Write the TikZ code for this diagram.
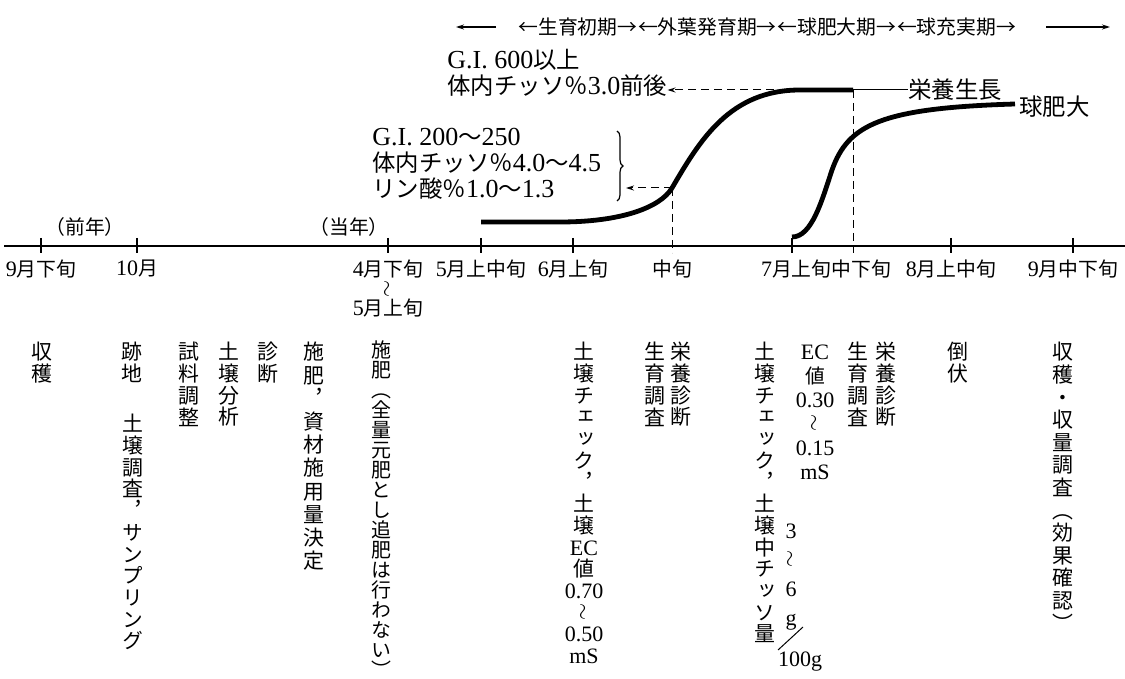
\documentclass[tikz,border=0pt]{standalone}
\usepackage{fontspec}
\setmainfont{Liberation Serif}
\newfontfamily\jp[Scale=0.9]{Noto Sans CJK JP}
\newfontfamily\jpv[Scale=0.95,RawFeature=+vert]{Noto Sans CJK JP}
\newcommand\cjkfont{\jp}
\newcommand\vtilde{\rotatebox{90}{$\sim$}}
% CJK text in Noto, the rest in Liberation Serif
\XeTeXinterchartokenstate=1
\newXeTeXintercharclass\cjkclass
\newcount\cjkcode
\newcommand\cjkrange[2]{\cjkcode=#1 \loop\XeTeXcharclass\cjkcode=\cjkclass\advance\cjkcode by 1 \ifnum\cjkcode<#2 \repeat}
\cjkrange{"2190}{"2194}
\cjkrange{"3000}{"A000}
\cjkrange{"FE10}{"FE50}
\cjkrange{"FF00}{"FFF0}
\XeTeXinterchartoks 0 \cjkclass = {\cjkfont}
\XeTeXinterchartoks 4095 \cjkclass = {\cjkfont}
\XeTeXinterchartoks \cjkclass 0 = {\rmfamily}
\XeTeXinterchartoks \cjkclass 4095 = {\rmfamily}
\usetikzlibrary{arrows.meta}
\usetikzlibrary{positioning}
\usetikzlibrary{decorations.pathreplacing}

\begin{document}
\begin{tikzpicture} [ x=0.5pt, y=-0.5pt
								, tate/.style={anchor=north, align=center, inner sep=0pt, font=\let\cjkfont\jpv\fontsize{11}{10.85}\selectfont}
								, hizuke/.style={inner sep=0pt, font=\fontsize{11}{13}\selectfont}
								, chu/.style={inner sep=0pt, align=left, font=\fontsize{13}{13}\selectfont}
								, seicho/.style={line width=2.4pt}
								, memori/.style={line width=0.7pt}
								, tensen/.style={line width=0.5pt, dash pattern=on 4pt off 2.5pt}
								, yaji/.style={tensen, -{Stealth[length=4pt, width=2.5pt]}}
								, kopfpfeil/.style={line width=0.6pt, -{Stealth[length=4pt, width=2.5pt]}}
								, kakko/.style={decorate, decoration={brace, amplitude=3pt}, line width=0.6pt}
								]
	\useasboundingbox (0,0) rectangle (1125,679);

	% Zeitachse
	\coordinate (achseL) at (4,246);
	\coordinate (achseR) at (1125,246);
	\coordinate (achseU) at (0,253);
	\draw [memori] (achseL) -- (achseR);
	\foreach \x in {41,137,388,481,573,792,951,1073}
		\draw [memori] (\x,238) -- (\x,253);

	\node (m9)   [hizuke] at (41,269)   {9月下旬};
	\node (m10)  [hizuke] at (137,269)  {10月};
	\node (m4)   [hizuke] at (388,269)  {4月下旬};
	\node (m4b)  [hizuke] at (388,289)  {\vtilde};
	\node (m5a)  [hizuke] at (388,308)  {5月上旬};
	\node (m5)   [hizuke] at (481,269)  {5月上中旬};
	\node (m6)   [hizuke] at (573,269)  {6月上旬};
	\node (mchu) [hizuke] at (672,269)  {中旬};
	\node (m7)   [hizuke] at (826,269)  {7月上旬中下旬};
	\node (m8)   [hizuke] at (951,269)  {8月上中旬};
	\node (m9b)  [hizuke] at (1073,269) {9月中下旬};

	\node (zennen) [hizuke] at (85,227)  {（前年）};
	\node (tonen)  [hizuke] at (349,227) {（当年）};

	% Kopfzeile
	\node (ki1) [hizuke, anchor=west] at (518,27) {←生育初期→};
	\node (ki2) [hizuke, right=0pt of ki1] {←外葉発育期→};
	\node (ki3) [hizuke, right=0pt of ki2] {←球肥大期→};
	\node (ki4) [hizuke, right=0pt of ki3] {←球充実期→};
	\coordinate (kl1) at (496,27);
	\coordinate (kl2) at (456,27);
	\coordinate (kr1) at (1046,27);
	\coordinate (kr2) at (1110,27);
	\draw [kopfpfeil] (kl1) -- (kl2);
	\draw [kopfpfeil] (kr1) -- (kr2);

	% Kurven
	\coordinate (c1a)   at (481,222);
	\coordinate (c1b)   at (560,222);
	\coordinate (c1mid) at (672,188);
	\coordinate (c1top) at (800,90);
	\coordinate (c1end) at (853,90);
	\draw [seicho] (c1a) -- (c1b) .. controls (620,222) and (660,208) .. (c1mid)
		.. controls (700,140) and (730,90) .. (c1top) -- (c1end);

	\coordinate (c2a)   at (792,237);
	\coordinate (c2mid) at (832,170);
	\coordinate (c2end) at (1015,104);
	\draw [seicho] (c2a) .. controls (812,237) and (822,200) .. (c2mid)
		.. controls (848,125) and (880,108) .. (c2end);

	\node (eiyoseicho) [chu, anchor=west] at (908,90)   {栄養生長};
	\node (kyuhidai)   [chu, anchor=west] at (1019,107) {球肥大};
	\draw [line width=0.5pt] (c1end) -- (eiyoseicho.west);

	\draw [tensen] (c1mid) -- (c1mid |- achseU);
	\draw [tensen] (c1end) -- (c1end |- achseU);

	% Werte
	\node (gi600) [chu, anchor=west] at (447,73) {G.I. 600以上\\体内チッソ％3.0前後};
	\draw [yaji] (c1top) -- (c1top -| gi600.east);

	\node (gi200) [chu, anchor=west] at (372,164) {G.I. 200〜250\\体内チッソ％4.0〜4.5\\リン酸％1.0〜1.3};
	\coordinate (br1) at (617,131);
	\coordinate (br2) at (617,201);
	\coordinate (brpt) at (626,188);
	\draw [kakko] (br1) -- (br2);
	\draw [yaji] (c1mid) -- (brpt);

	% Arbeiten
	\node (shukaku1)   [tate] at (41.5,342) {収\\穫};
	\node (atochi)     [tate] at (131.5,342) {跡\\地};
	\node (dojochosa)  [tate] at (133,414) {土\\壌\\調\\査\\，\\サ\\ン\\プ\\リ\\ン\\グ};
	\node (shiryo)     [tate] at (189,342) {試\\料\\調\\整};
	\node (bunseki)    [tate] at (229,342) {土\\壌\\分\\析};
	\node (shindan)    [tate] at (267.5,342) {診\\断};
	\node (sehi1)      [tate, font=\let\cjkfont\jpv\fontsize{11}{11.6}\selectfont] at (314,342) {施\\肥\\，\\資\\材\\施\\用\\量\\決\\定};
	\node (sehi2)      [tate, font=\let\cjkfont\jpv\fontsize{10.5}{10}\selectfont] at (381.5,340) {施\\肥\\（\\全\\量\\元\\肥\\と\\し\\追\\肥\\は\\行\\わ\\な\\い\\）};
	\node (check1)     [tate] at (584,342) {土\\壌\\チ\\ェ\\ッ\\ク\\，\\土\\壌\\EC\\値\\0.70\\\vtilde\\0.50\\mS};
	\node (ikusei1)    [tate] at (655,342) {生\\育\\調\\査};
	\node (eiyo1)      [tate] at (681,342) {栄\\養\\診\\断};
	\node (check2)     [tate] at (765,342) {土\\壌\\チ\\ェ\\ッ\\ク\\，\\土\\壌\\中\\チ\\ッ\\ソ\\量};
	\node (chisso)     [tate, font=\fontsize{11}{14.5}\selectfont] at (791,524) {3\\\vtilde\\6\\g};
	\node (per100)     [hizuke] at (800,662) {100g};
	\coordinate (sl1) at (778,650);
	\coordinate (sl2) at (803,627);
	\draw [line width=0.5pt] (sl1) -- (sl2);
	\node (ec2)        [tate, font=\fontsize{11}{12}\selectfont] at (815,345) {EC\\値\\0.30\\\vtilde\\0.15\\mS};
	\node (ikusei2)    [tate] at (858,342) {生\\育\\調\\査};
	\node (eiyo2)      [tate] at (886,342) {栄\\養\\診\\断};
	\node (toufuku)    [tate] at (958,342) {倒\\伏};
	\node (shukaku2)   [tate, font=\let\cjkfont\jpv\fontsize{11}{11.3}\selectfont] at (1063,342) {収\\穫\\・\\収\\量\\調\\査\\（\\効\\果\\確\\認\\）};

\end{tikzpicture}
\end{document}
